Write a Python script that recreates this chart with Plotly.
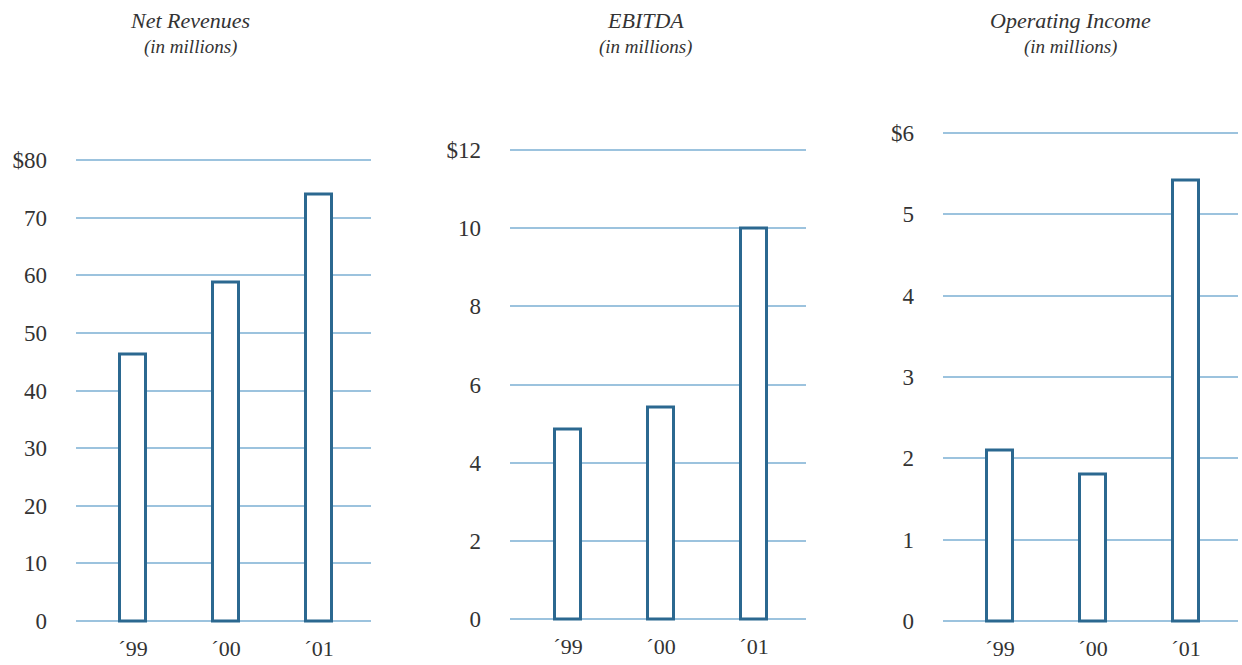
import plotly.graph_objects as go

W, H = 1242, 665

years = ["´99", "´00", "´01"]
net_revenues = [46.3, 58.7, 74.1]
ebitda = [4.86, 5.42, 10.0]
operating_income = [2.10, 1.80, 5.41]

titles = ["Net Revenues", "EBITDA", "Operating Income"]
subtitle = "(in millions)"

y_max = [80, 12, 6]
y_dtick = [10, 2, 1]

BAR = "#2b6890"
GRID = "#9cc3de"
TXT = "#333333"
FONT = "Liberation Serif"

# pixel layout of each panel: (left px, right px, zero px, top px, first center px, title center px)
panels = [
    (76, 371, 621, 160, 133, 190),
    (510, 806, 619, 150, 568, 645),
    (943, 1238, 621, 133, 1000, 1070),
]
spacing = 93.0

fig = go.Figure()
series = [net_revenues, ebitda, operating_income]

for i, (vals, (lpx, rpx, zpx, tpx, c0, tcx)) in enumerate(zip(series, panels)):
    ax = "" if i == 0 else str(i + 1)
    ppu = (zpx - tpx) / y_max[i]
    pad = 4 / ppu  # extend slightly below 0 so the bar base is visible
    lo = -pad
    hi = y_max[i] + 1.5 / ppu
    bot_px = zpx + pad * ppu
    top_px = tpx - 1.5
    xlo = (lpx - c0) / spacing
    xhi = (rpx - c0) / spacing
    fig.add_trace(go.Bar(
        x=[0, 1, 2], y=vals, width=0.29,
        marker=dict(color="white", line=dict(color=BAR, width=3)),
        xaxis="x" + ax, yaxis="y" + ax, showlegend=False,
    ))
    fig.layout["xaxis" + ax] = dict(
        domain=[lpx / W, rpx / W], range=[xlo, xhi], anchor="y" + ax,
        tickmode="array", tickvals=[0, 1, 2], ticktext=years,
        showgrid=False, zeroline=False, showline=False, ticks="",
        tickfont=dict(family=FONT, size=22, color=TXT), ticklabelstandoff=8,
        fixedrange=True, automargin=False,
    )
    fig.layout["yaxis" + ax] = dict(
        domain=[(H - bot_px) / H, (H - top_px) / H], range=[lo, hi], anchor="x" + ax,
        tickmode="array",
        tickvals=[k * y_dtick[i] for k in range(int(y_max[i] / y_dtick[i]) + 1)],
        ticktext=[("$" if k * y_dtick[i] == y_max[i] else "") + str(k * y_dtick[i])
                  for k in range(int(y_max[i] / y_dtick[i]) + 1)],
        showgrid=True, gridcolor=GRID, gridwidth=1.5, zeroline=False, showline=False,
        ticks="", tickfont=dict(family=FONT, size=23, color=TXT), ticklabelstandoff=28,
        fixedrange=True, automargin=False,
    )
    fig.add_annotation(x=tcx / W, y=1 - 21 / H, xref="paper", yref="paper",
                       text=titles[i], showarrow=False, xanchor="center", yanchor="middle",
                       font=dict(family=FONT, size=22, color=TXT, style="italic"))
    fig.add_annotation(x=tcx / W, y=1 - 47 / H, xref="paper", yref="paper",
                       text=subtitle, showarrow=False, xanchor="center", yanchor="middle",
                       font=dict(family=FONT, size=19, color=TXT, style="italic"))

fig.update_layout(
    width=W, height=H, margin=dict(l=0, r=0, t=0, b=0, autoexpand=False),
    paper_bgcolor="white", plot_bgcolor="white", bargap=0,
)

fig.write_html("out.html")
